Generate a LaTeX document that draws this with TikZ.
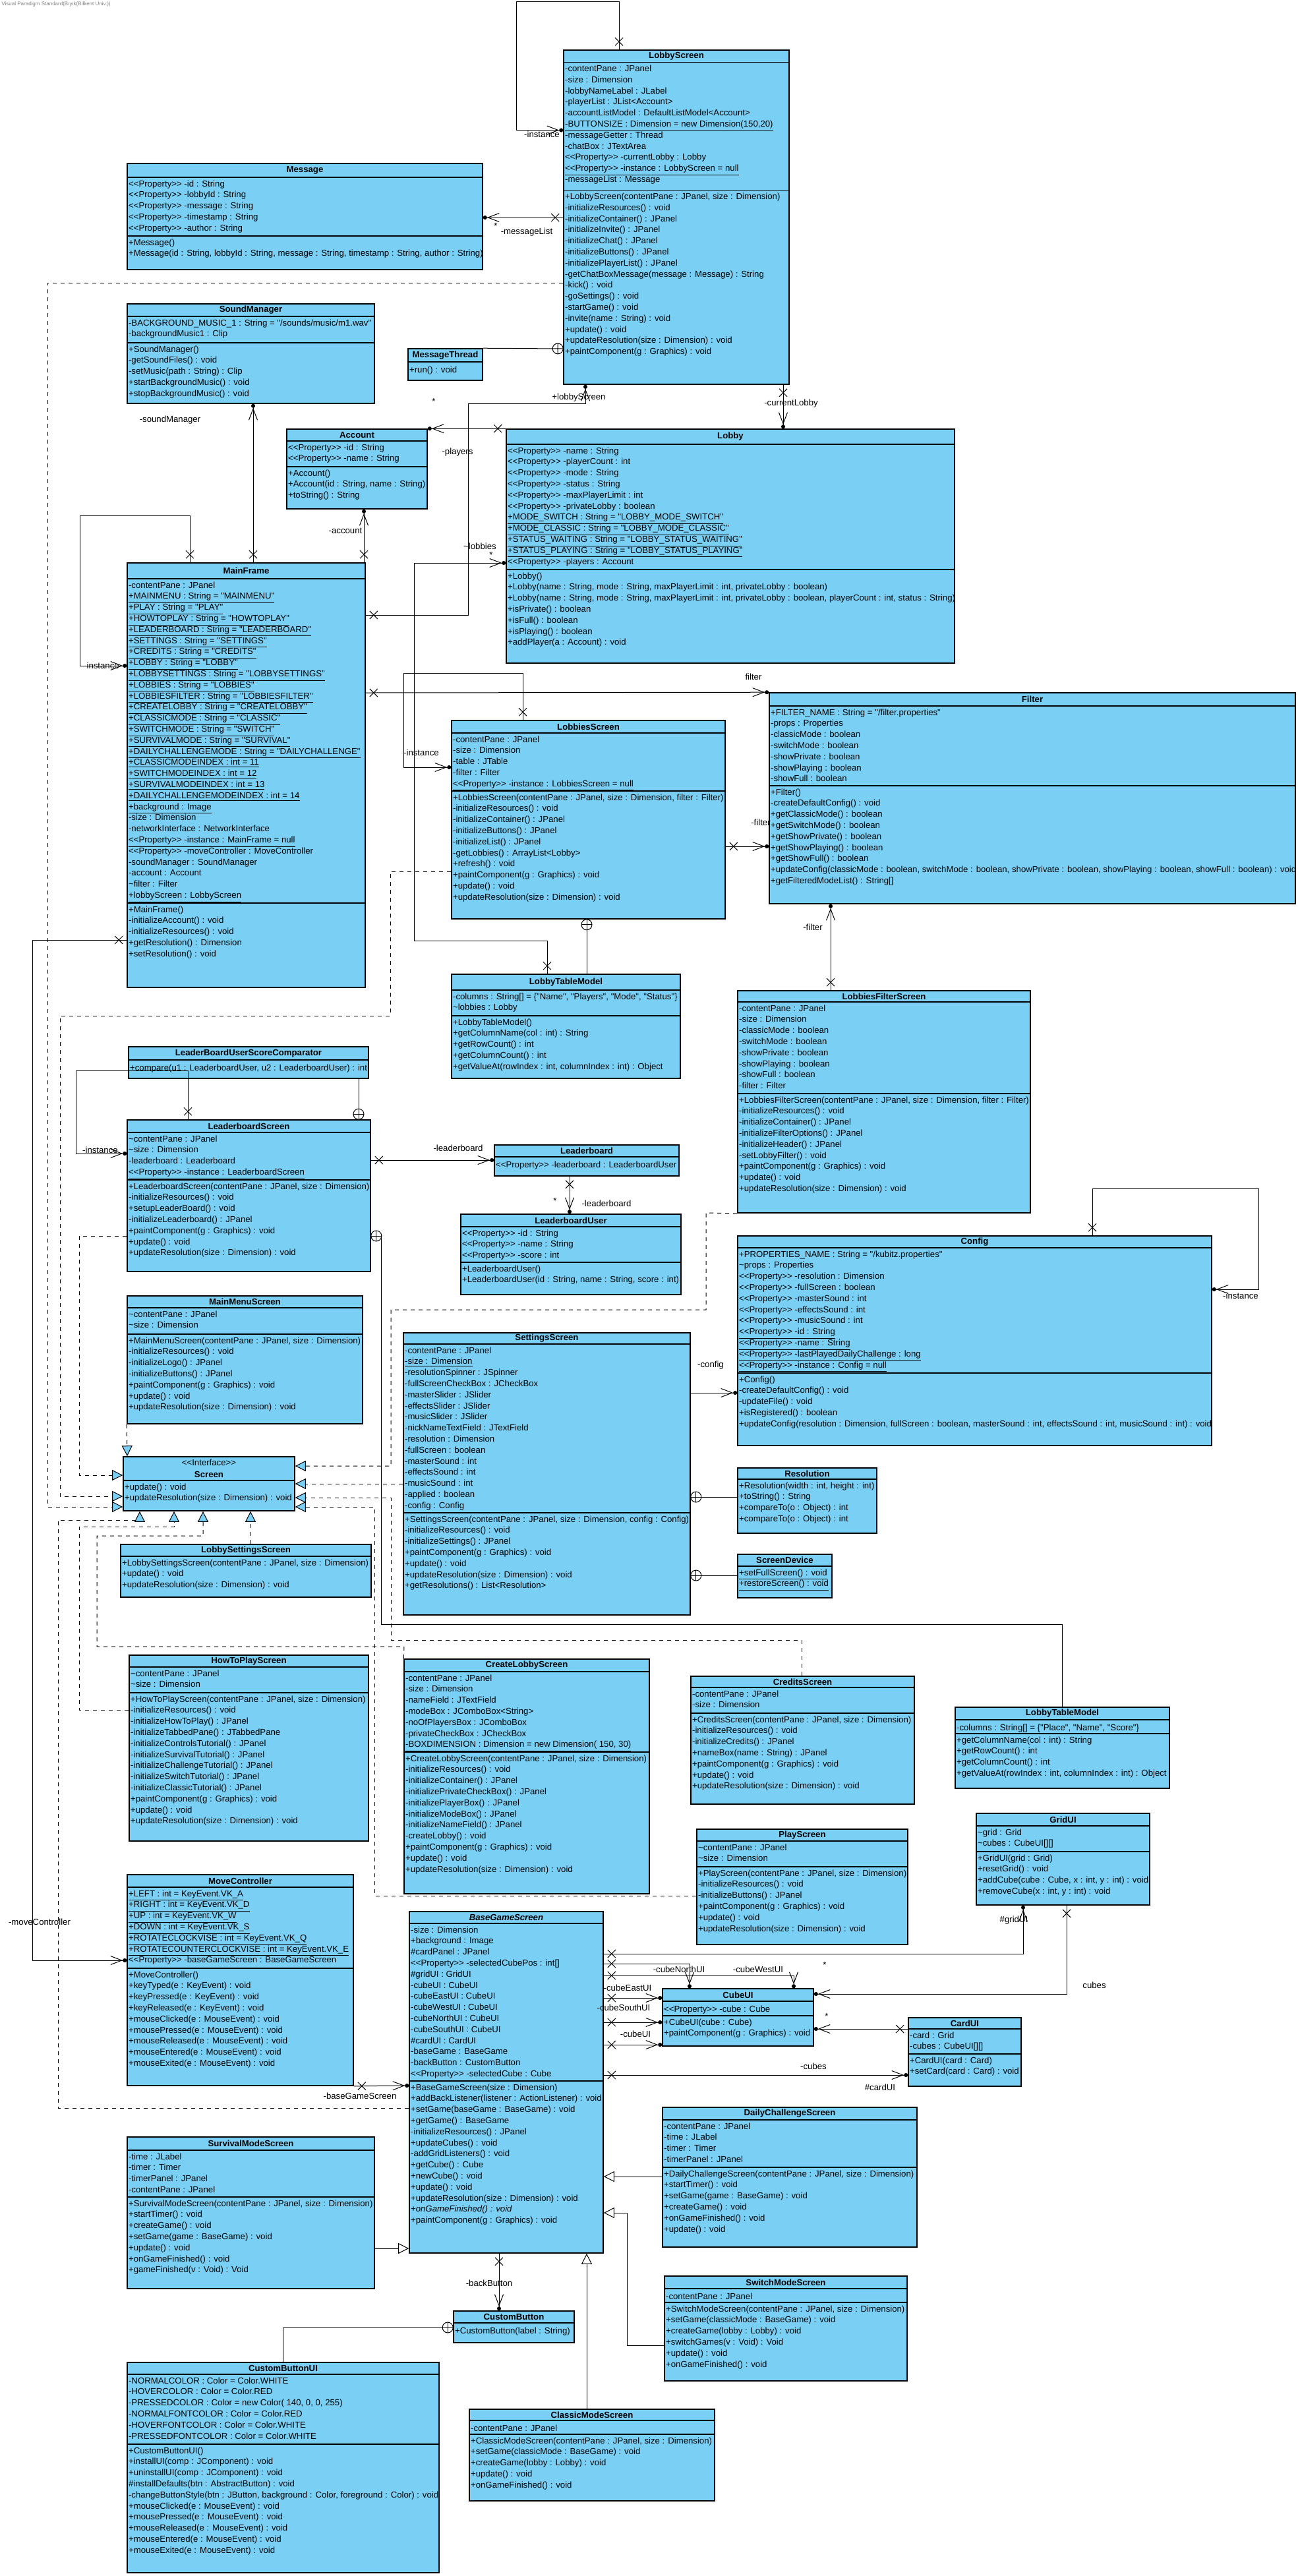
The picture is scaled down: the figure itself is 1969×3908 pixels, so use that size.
\documentclass[tikz,border=0pt]{standalone}
\usepackage{fontspec}
\newfontfamily\umlfont{Liberation Sans}
\usetikzlibrary{arrows.meta,fit,decorations.markings}
\definecolor{umlblue}{RGB}{122,207,245}
\lineskiplimit=-10pt

\begin{document}
\begin{tikzpicture}[x=0.5pt, y=-0.5pt, line width=0.5pt,
  font=\umlfont\fontsize{6.6}{8.4}\selectfont,
  cls/.style={draw, fill=umlblue, line width=0.8pt, inner sep=0pt},
  title/.style={font=\umlfont\fontsize{6.6}{8.4}\selectfont\bfseries, inner sep=0pt},
  body/.style={anchor=north west, align=left, inner xsep=0.8pt, inner ysep=2pt, execute at begin node=\strut},
  sep/.style={line width=0.8pt},
  lbl/.style={inner sep=0pt},
  nav/.style={-{Straight Barb[length=8.5pt,width=6.5pt]Circle[length=3pt]}},
  gen/.style={-{Triangle[length=8pt,width=8pt,fill=white]}},
  real/.style={dash pattern=on 3pt off 3pt, -{Triangle[length=8pt,width=8pt,fill=umlblue]}},
  xs/.style={postaction={decorate, decoration={markings, mark=at position 6pt with {\draw[solid,-] (-3pt,-3pt) -- (3pt,3pt) (-3pt,3pt) -- (3pt,-3pt);}}}},
  os/.style={postaction={decorate, decoration={markings, mark=at position 4pt with {\draw[solid,-,fill=white] (0,0) circle (4pt); \draw[solid,-] (-4pt,0) -- (4pt,0) (0,-4pt) -- (0,4pt);}}}}]
\useasboundingbox (0,0) rectangle (1969,3908);

\node[anchor=north west, inner sep=0pt, text=gray, font=\umlfont\fontsize{4}{5}\selectfont] (stamp) at (2,2) {Visual Paradigm Standard(Bıyık(Bilkent Univ.))};

% LobbyScreen
\node[cls, fit={(855,76) (1197,583)}] (LobbyScreen) {};
\node[title] at (1026,85) {LobbyScreen};
\draw[sep] (855,94.5) -- (1197,94.5) (855,288.5) -- (1197,288.5);
\node[body] at (855,94.5) {-contentPane : JPanel\\ -size : Dimension\\ -lobbyNameLabel : JLabel\\ -playerList : JList<Account>\\ -accountListModel : DefaultListModel<Account>\\ \underline{-BUTTONSIZE : Dimension = new Dimension(150,20)}\\ -messageGetter : Thread\\ -chatBox : JTextArea\\ <<Property>> -currentLobby : Lobby\\ \underline{<<Property>> -instance : LobbyScreen = null}\\ -messageList : Message};
\node[body] at (855,288.5) {+LobbyScreen(contentPane : JPanel, size : Dimension)\\ -initializeResources() : void\\ -initializeContainer() : JPanel\\ -initializeInvite() : JPanel\\ -initializeChat() : JPanel\\ -initializeButtons() : JPanel\\ -initializePlayerList() : JPanel\\ -getChatBoxMessage(message : Message) : String\\ -kick() : void\\ -goSettings() : void\\ -startGame() : void\\ -invite(name : String) : void\\ +update() : void\\ +updateResolution(size : Dimension) : void\\ +paintComponent(g : Graphics) : void};

% Message
\node[cls, fit={(193,248) (732,409)}] (Message) {};
\node[title] at (462.5,258.5) {Message};
\draw[sep] (193,269) -- (732,269) (193,358) -- (732,358);
\node[body] at (193,269) {<<Property>> -id : String\\ <<Property>> -lobbyId : String\\ <<Property>> -message : String\\ <<Property>> -timestamp : String\\ <<Property>> -author : String};
\node[body] at (193,358) {+Message()\\ +Message(id : String, lobbyId : String, message : String, timestamp : String, author : String)};

% SoundManager
\node[cls, fit={(193,461) (568,612)}] (SoundManager) {};
\node[title] at (380.5,470.5) {SoundManager};
\draw[sep] (193,480) -- (568,480) (193,520) -- (568,520);
\node[body] at (193,480) {-BACKGROUND\_MUSIC\_1 : String = "/sounds/music/m1.wav"\\ -backgroundMusic1 : Clip};
\node[body] at (193,520) {+SoundManager()\\ -getSoundFiles() : void\\ -setMusic(path : String) : Clip\\ +startBackgroundMusic() : void\\ +stopBackgroundMusic() : void};

% MessageThread
\node[cls, fit={(619,529) (732,577)}] (MessageThread) {};
\node[title] at (675.5,539) {MessageThread};
\draw[sep] (619,549) -- (732,549);
\node[body] at (619,549) {+run() : void};

% Account
\node[cls, fit={(435,651) (648,772)}] (Account) {};
\node[title] at (541.5,660) {Account};
\draw[sep] (435,669) -- (648,669) (435,708) -- (648,708);
\node[body] at (435,669) {<<Property>> -id : String\\ <<Property>> -name : String};
\node[body] at (435,708) {+Account()\\ +Account(id : String, name : String)\\ +toString() : String};

% Lobby
\node[cls, fit={(768,651) (1448,1006)}] (Lobby) {};
\node[title] at (1108,662.5) {Lobby};
\draw[sep] (768,674) -- (1448,674) (768,864) -- (1448,864);
\node[body] at (768,674) {<<Property>> -name : String\\ <<Property>> -playerCount : int\\ <<Property>> -mode : String\\ <<Property>> -status : String\\ <<Property>> -maxPlayerLimit : int\\ <<Property>> -privateLobby : boolean\\ \underline{+MODE\_SWITCH : String = "LOBBY\_MODE\_SWITCH"}\\ \underline{+MODE\_CLASSIC : String = "LOBBY\_MODE\_CLASSIC"}\\ \underline{+STATUS\_WAITING : String = "LOBBY\_STATUS\_WAITING"}\\ \underline{+STATUS\_PLAYING : String = "LOBBY\_STATUS\_PLAYING"}\\ <<Property>> -players : Account};
\node[body] at (768,864) {+Lobby()\\ +Lobby(name : String, mode : String, maxPlayerLimit : int, privateLobby : boolean)\\ +Lobby(name : String, mode : String, maxPlayerLimit : int, privateLobby : boolean, playerCount : int, status : String)\\ +isPrivate() : boolean\\ +isFull() : boolean\\ +isPlaying() : boolean\\ +addPlayer(a : Account) : void};

% MainFrame
\node[cls, fit={(193,854) (554,1498)}] (MainFrame) {};
\node[title] at (373.5,866) {MainFrame};
\draw[sep] (193,878) -- (554,878) (193,1370) -- (554,1370);
\node[body] at (193,878) {-contentPane : JPanel\\ \underline{+MAINMENU : String = "MAINMENU"}\\ \underline{+PLAY : String = "PLAY"}\\ \underline{+HOWTOPLAY : String = "HOWTOPLAY"}\\ \underline{+LEADERBOARD : String = "LEADERBOARD"}\\ \underline{+SETTINGS : String = "SETTINGS"}\\ \underline{+CREDITS : String = "CREDITS"}\\ \underline{+LOBBY : String = "LOBBY"}\\ \underline{+LOBBYSETTINGS : String = "LOBBYSETTINGS"}\\ \underline{+LOBBIES : String = "LOBBIES"}\\ \underline{+LOBBIESFILTER : String = "LOBBIESFILTER"}\\ \underline{+CREATELOBBY : String = "CREATELOBBY"}\\ \underline{+CLASSICMODE : String = "CLASSIC"}\\ \underline{+SWITCHMODE : String = "SWITCH"}\\ \underline{+SURVIVALMODE : String = "SURVIVAL"}\\ \underline{+DAILYCHALLENGEMODE : String = "DAILYCHALLENGE"}\\ \underline{+CLASSICMODEINDEX : int = 11}\\ \underline{+SWITCHMODEINDEX : int = 12}\\ \underline{+SURVIVALMODEINDEX : int = 13}\\ \underline{+DAILYCHALLENGEMODEINDEX : int = 14}\\ \underline{+background : Image}\\ -size : Dimension\\ -networkInterface : NetworkInterface\\ \underline{<<Property>> -instance : MainFrame = null}\\ <<Property>> -moveController : MoveController\\ -soundManager : SoundManager\\ -account : Account\\ \textasciitilde{}filter : Filter\\ \underline{+lobbyScreen : LobbyScreen}};
\node[body] at (193,1370) {+MainFrame()\\ -initializeAccount() : void\\ -initializeResources() : void\\ +getResolution() : Dimension\\ +setResolution() : void};

% LobbiesScreen
\node[cls, fit={(685,1093) (1100,1394)}] (LobbiesScreen) {};
\node[title] at (892.5,1102.5) {LobbiesScreen};
\draw[sep] (685,1112) -- (1100,1112) (685,1200) -- (1100,1200);
\node[body] at (685,1112) {-contentPane : JPanel\\ -size : Dimension\\ -table : JTable\\ -filter : Filter\\ \underline{<<Property>> -instance : LobbiesScreen = null}};
\node[body] at (685,1200) {+LobbiesScreen(contentPane : JPanel, size : Dimension, filter : Filter)\\ -initializeResources() : void\\ -initializeContainer() : JPanel\\ -initializeButtons() : JPanel\\ -initializeList() : JPanel\\ -getLobbies() : ArrayList<Lobby>\\ +refresh() : void\\ +paintComponent(g : Graphics) : void\\ +update() : void\\ +updateResolution(size : Dimension) : void};

% Filter
\node[cls, fit={(1167,1051) (1965,1371)}] (Filter) {};
\node[title] at (1566,1061) {Filter};
\draw[sep] (1167,1071) -- (1965,1071) (1167,1192) -- (1965,1192);
\node[body] at (1167,1071) {+FILTER\_NAME : String = "/filter.properties"\\ -props : Properties\\ -classicMode : boolean\\ -switchMode : boolean\\ -showPrivate : boolean\\ -showPlaying : boolean\\ -showFull : boolean};
\node[body] at (1167,1192) {+Filter()\\ -createDefaultConfig() : void\\ +getClassicMode() : boolean\\ +getSwitchMode() : boolean\\ +getShowPrivate() : boolean\\ +getShowPlaying() : boolean\\ +getShowFull() : boolean\\ +updateConfig(classicMode : boolean, switchMode : boolean, showPrivate : boolean, showPlaying : boolean, showFull : boolean) : void\\ +getFilteredModeList() : String[]};

% LobbyTableModel
\node[cls, fit={(685,1478) (1032,1636)}] (LobbyTableModel) {};
\node[title] at (858.5,1490) {LobbyTableModel};
\draw[sep] (685,1502) -- (1032,1502) (685,1541) -- (1032,1541);
\node[body] at (685,1502) {-columns : String[] = \{"Name", "Players", "Mode", "Status"\}\\ \textasciitilde{}lobbies : Lobby};
\node[body] at (685,1541) {+LobbyTableModel()\\ +getColumnName(col : int) : String\\ +getRowCount() : int\\ +getColumnCount() : int\\ +getValueAt(rowIndex : int, columnIndex : int) : Object};

% LobbiesFilterScreen
\node[cls, fit={(1119,1503) (1563,1840)}] (LobbiesFilterScreen) {};
\node[title] at (1341,1511.5) {LobbiesFilterScreen};
\draw[sep] (1119,1520) -- (1563,1520) (1119,1659) -- (1563,1659);
\node[body] at (1119,1520) {-contentPane : JPanel\\ -size : Dimension\\ -classicMode : boolean\\ -switchMode : boolean\\ -showPrivate : boolean\\ -showPlaying : boolean\\ -showFull : boolean\\ -filter : Filter};
\node[body] at (1119,1659) {+LobbiesFilterScreen(contentPane : JPanel, size : Dimension, filter : Filter)\\ -initializeResources() : void\\ -initializeContainer() : JPanel\\ -initializeFilterOptions() : JPanel\\ -initializeHeader() : JPanel\\ -setLobbyFilter() : void\\ +paintComponent(g : Graphics) : void\\ +update() : void\\ +updateResolution(size : Dimension) : void};

% LeaderBoardUserScoreComparator
\node[cls, fit={(195,1588) (559,1636)}] (Comparator) {};
\node[title] at (377,1598) {LeaderBoardUserScoreComparator};
\draw[sep] (195,1608) -- (559,1608);
\node[body] at (195,1608) {+compare(u1 : LeaderboardUser, u2 : LeaderboardUser) : int};

% LeaderboardScreen
\node[cls, fit={(193,1699) (562,1929)}] (LeaderboardScreen) {};
\node[title] at (377.5,1708.5) {LeaderboardScreen};
\draw[sep] (193,1718) -- (562,1718) (193,1790) -- (562,1790);
\node[body] at (193,1718) {\textasciitilde{}contentPane : JPanel\\ \textasciitilde{}size : Dimension\\ -leaderboard : Leaderboard\\ \underline{<<Property>> -instance : LeaderboardScreen}};
\node[body] at (193,1790) {+LeaderboardScreen(contentPane : JPanel, size : Dimension)\\ -initializeResources() : void\\ +setupLeaderBoard() : void\\ -initializeLeaderboard() : JPanel\\ +paintComponent(g : Graphics) : void\\ +update() : void\\ +updateResolution(size : Dimension) : void};

% Leaderboard
\node[cls, fit={(750,1737) (1030,1784)}] (Leaderboard) {};
\node[title] at (890,1746) {Leaderboard};
\draw[sep] (750,1755) -- (1030,1755);
\node[body] at (750,1755) {<<Property>> -leaderboard : LeaderboardUser};

% LeaderboardUser
\node[cls, fit={(699,1842) (1033,1964)}] (LeaderboardUser) {};
\node[title] at (866,1851.5) {LeaderboardUser};
\draw[sep] (699,1861) -- (1033,1861) (699,1915) -- (1033,1915);
\node[body] at (699,1861) {<<Property>> -id : String\\ <<Property>> -name : String\\ <<Property>> -score : int};
\node[body] at (699,1915) {+LeaderboardUser()\\ +LeaderboardUser(id : String, name : String, score : int)};

% Config
\node[cls, fit={(1119,1875) (1838,2193)}] (Config) {};
\node[title] at (1478.5,1884) {Config};
\draw[sep] (1119,1893) -- (1838,1893) (1119,2083) -- (1838,2083);
\node[body] at (1119,1893) {+PROPERTIES\_NAME : String = "/kubitz.properties"\\ \textasciitilde{}props : Properties\\ <<Property>> -resolution : Dimension\\ <<Property>> -fullScreen : boolean\\ <<Property>> -masterSound : int\\ <<Property>> -effectsSound : int\\ <<Property>> -musicSound : int\\ \underline{<<Property>> -id : String}\\ \underline{<<Property>> -name : String}\\ \underline{<<Property>> -lastPlayedDailyChallenge : long}\\ \underline{<<Property>> -instance : Config = null}};
\node[body] at (1119,2083) {+Config()\\ -createDefaultConfig() : void\\ -updateFile() : void\\ +isRegistered() : boolean\\ +updateConfig(resolution : Dimension, fullScreen : boolean, masterSound : int, effectsSound : int, musicSound : int) : void};

% MainMenuScreen
\node[cls, fit={(193,1966) (550,2160)}] (MainMenuScreen) {};
\node[title] at (371.5,1975) {MainMenuScreen};
\draw[sep] (193,1984) -- (550,1984) (193,2024) -- (550,2024);
\node[body] at (193,1984) {\textasciitilde{}contentPane : JPanel\\ \textasciitilde{}size : Dimension};
\node[body] at (193,2024) {+MainMenuScreen(contentPane : JPanel, size : Dimension)\\ -initializeResources() : void\\ -initializeLogo() : JPanel\\ -initializeButtons() : JPanel\\ +paintComponent(g : Graphics) : void\\ +update() : void\\ +updateResolution(size : Dimension) : void};

% SettingsScreen
\node[cls, fit={(612,2022) (1047,2450)}] (SettingsScreen) {};
\node[title] at (829.5,2030.5) {SettingsScreen};
\draw[sep] (612,2039) -- (1047,2039) (612,2295) -- (1047,2295);
\node[body] at (612,2039) {-contentPane : JPanel\\ \underline{-size : Dimension}\\ -resolutionSpinner : JSpinner\\ -fullScreenCheckBox : JCheckBox\\ -masterSlider : JSlider\\ -effectsSlider : JSlider\\ -musicSlider : JSlider\\ -nickNameTextField : JTextField\\ -resolution : Dimension\\ -fullScreen : boolean\\ -masterSound : int\\ -effectsSound : int\\ -musicSound : int\\ -applied : boolean\\ -config : Config};
\node[body] at (612,2295) {+SettingsScreen(contentPane : JPanel, size : Dimension, config : Config)\\ -initializeResources() : void\\ -initializeSettings() : JPanel\\ +paintComponent(g : Graphics) : void\\ +update() : void\\ +updateResolution(size : Dimension) : void\\ +getResolutions() : List<Resolution>};

% Resolution
\node[cls, fit={(1119,2227) (1330,2326)}] (Resolution) {};
\node[title] at (1224.5,2235.5) {Resolution};
\draw[sep] (1119,2244) -- (1330,2244);
\node[body] at (1119,2244) {+Resolution(width : int, height : int)\\ +toString() : String\\ +compareTo(o : Object) : int\\ +compareTo(o : Object) : int};

% ScreenDevice
\node[cls, fit={(1119,2358) (1262,2424)}] (ScreenDevice) {};
\node[title] at (1190.5,2367) {ScreenDevice};
\draw[sep] (1119,2376) -- (1262,2376);
\node[body] at (1119,2376) {\underline{+setFullScreen() : void}\\ \underline{+restoreScreen() : void}};

% Screen
\node[cls, fit={(187,2210) (447,2292)}] (Screen) {};
\node[inner sep=0pt] at (317,2219) {<<Interface>>};
\node[title] at (317,2237) {Screen};
\draw[sep] (187,2246) -- (447,2246);
\node[body] at (187,2246) {+update() : void\\ +updateResolution(size : Dimension) : void};

% LobbySettingsScreen
\node[cls, fit={(183,2343) (563,2423)}] (LobbySettingsScreen) {};
\node[title] at (373,2352) {LobbySettingsScreen};
\draw[sep] (183,2361) -- (563,2361);
\node[body] at (183,2361) {+LobbySettingsScreen(contentPane : JPanel, size : Dimension)\\ +update() : void\\ +updateResolution(size : Dimension) : void};

% HowToPlayScreen
\node[cls, fit={(196,2511) (559,2793)}] (HowToPlayScreen) {};
\node[title] at (377.5,2520) {HowToPlayScreen};
\draw[sep] (196,2529) -- (559,2529) (196,2568) -- (559,2568);
\node[body] at (196,2529) {\textasciitilde{}contentPane : JPanel\\ \textasciitilde{}size : Dimension};
\node[body] at (196,2568) {+HowToPlayScreen(contentPane : JPanel, size : Dimension)\\ -initializeResources() : void\\ -initializeHowToPlay() : JPanel\\ -initializeTabbedPane() : JTabbedPane\\ -initializeControlsTutorial() : JPanel\\ -initializeSurvivalTutorial() : JPanel\\ -initializeChallengeTutorial() : JPanel\\ -initializeSwitchTutorial() : JPanel\\ -initializeClassicTutorial() : JPanel\\ +paintComponent(g : Graphics) : void\\ +update() : void\\ +updateResolution(size : Dimension) : void};

% CreateLobbyScreen
\node[cls, fit={(613,2517) (985,2873)}] (CreateLobbyScreen) {};
\node[title] at (799,2526.5) {CreateLobbyScreen};
\draw[sep] (613,2536) -- (985,2536) (613,2658) -- (985,2658);
\node[body] at (613,2536) {-contentPane : JPanel\\ -size : Dimension\\ -nameField : JTextField\\ -modeBox : JComboBox<String>\\ -noOfPlayersBox : JComboBox\\ -privateCheckBox : JCheckBox\\ \underline{-BOXDIMENSION : Dimension = new Dimension( 150, 30)}};
\node[body] at (613,2658) {+CreateLobbyScreen(contentPane : JPanel, size : Dimension)\\ -initializeResources() : void\\ -initializeContainer() : JPanel\\ -initializePrivateCheckBox() : JPanel\\ -initializePlayerBox() : JPanel\\ -initializeModeBox() : JPanel\\ -initializeNameField() : JPanel\\ -createLobby() : void\\ +paintComponent(g : Graphics) : void\\ +update() : void\\ +updateResolution(size : Dimension) : void};

% CreditsScreen
\node[cls, fit={(1048,2543) (1387,2737)}] (CreditsScreen) {};
\node[title] at (1217.5,2551.5) {CreditsScreen};
\draw[sep] (1048,2560) -- (1387,2560) (1048,2599) -- (1387,2599);
\node[body] at (1048,2560) {-contentPane : JPanel\\ -size : Dimension};
\node[body] at (1048,2599) {+CreditsScreen(contentPane : JPanel, size : Dimension)\\ -initializeResources() : void\\ -initializeCredits() : JPanel\\ +nameBox(name : String) : JPanel\\ +paintComponent(g : Graphics) : void\\ +update() : void\\ +updateResolution(size : Dimension) : void};

% LobbyTableModel (leaderboard)
\node[cls, fit={(1449,2590) (1774,2713)}] (LobbyTableModelB) {};
\node[title] at (1611.5,2599.5) {LobbyTableModel};
\draw[sep] (1449,2609) -- (1774,2609) (1449,2630) -- (1774,2630);
\node[body] at (1449,2609) {-columns : String[] = \{"Place", "Name", "Score"\}};
\node[body] at (1449,2630) {+getColumnName(col : int) : String\\ +getRowCount() : int\\ +getColumnCount() : int\\ +getValueAt(rowIndex : int, columnIndex : int) : Object};

% GridUI
\node[cls, fit={(1481,2751) (1744,2890)}] (GridUI) {};
\node[title] at (1612.5,2760.5) {GridUI};
\draw[sep] (1481,2770) -- (1744,2770) (1481,2809) -- (1744,2809);
\node[body] at (1481,2770) {\textasciitilde{}grid : Grid\\ \textasciitilde{}cubes : CubeUI[][]};
\node[body] at (1481,2809) {+GridUI(grid : Grid)\\ +resetGrid() : void\\ +addCube(cube : Cube, x : int, y : int) : void\\ +removeCube(x : int, y : int) : void};

% PlayScreen
\node[cls, fit={(1057,2775) (1377,2950)}] (PlayScreen) {};
\node[title] at (1217,2784) {PlayScreen};
\draw[sep] (1057,2793) -- (1377,2793) (1057,2832) -- (1377,2832);
\node[body] at (1057,2793) {\textasciitilde{}contentPane : JPanel\\ \textasciitilde{}size : Dimension};
\node[body] at (1057,2832) {+PlayScreen(contentPane : JPanel, size : Dimension)\\ -initializeResources() : void\\ -initializeButtons() : JPanel\\ +paintComponent(g : Graphics) : void\\ +update() : void\\ +updateResolution(size : Dimension) : void};

% MoveController
\node[cls, fit={(193,2844) (536,3164)}] (MoveController) {};
\node[title] at (364.5,2853.5) {MoveController};
\draw[sep] (193,2863) -- (536,2863) (193,2986) -- (536,2986);
\node[body] at (193,2863) {\underline{+LEFT : int = KeyEvent.VK\_A}\\ \underline{+RIGHT : int = KeyEvent.VK\_D}\\ \underline{+UP : int = KeyEvent.VK\_W}\\ \underline{+DOWN : int = KeyEvent.VK\_S}\\ \underline{+ROTATECLOCKVISE : int = KeyEvent.VK\_Q}\\ \underline{+ROTATECOUNTERCLOCKVISE : int = KeyEvent.VK\_E}\\ <<Property>> -baseGameScreen : BaseGameScreen};
\node[body] at (193,2986) {+MoveController()\\ +keyTyped(e : KeyEvent) : void\\ +keyPressed(e : KeyEvent) : void\\ +keyReleased(e : KeyEvent) : void\\ +mouseClicked(e : MouseEvent) : void\\ +mousePressed(e : MouseEvent) : void\\ +mouseReleased(e : MouseEvent) : void\\ +mouseEntered(e : MouseEvent) : void\\ +mouseExited(e : MouseEvent) : void};

% BaseGameScreen
\node[cls, fit={(621,2900) (915,3418)}] (BaseGameScreen) {};
\node[title] at (768,2909) {\itshape BaseGameScreen};
\draw[sep] (621,2918) -- (915,2918) (621,3157) -- (915,3157);
\node[body] at (621,2918) {-size : Dimension\\ +background : Image\\ \#cardPanel : JPanel\\ <<Property>> -selectedCubePos : int[]\\ \#gridUI : GridUI\\ -cubeUI : CubeUI\\ -cubeEastUI : CubeUI\\ -cubeWestUI : CubeUI\\ -cubeNorthUI : CubeUI\\ -cubeSouthUI : CubeUI\\ \#cardUI : CardUI\\ -baseGame : BaseGame\\ -backButton : CustomButton\\ <<Property>> -selectedCube : Cube};
\node[body] at (621,3157) {+BaseGameScreen(size : Dimension)\\ +addBackListener(listener : ActionListener) : void\\ +setGame(baseGame : BaseGame) : void\\ +getGame() : BaseGame\\ -initializeResources() : JPanel\\ +updateCubes() : void\\ -addGridListeners() : void\\ +getCube() : Cube\\ +newCube() : void\\ +update() : void\\ +updateResolution(size : Dimension) : void\\ \textit{+onGameFinished() : void}\\ +paintComponent(g : Graphics) : void};

% CubeUI
\node[cls, fit={(1005,3017) (1234,3104)}] (CubeUI) {};
\node[title] at (1119.5,3026.5) {CubeUI};
\draw[sep] (1005,3036) -- (1234,3036) (1005,3058) -- (1234,3058);
\node[body] at (1005,3036) {<<Property>> -cube : Cube};
\node[body] at (1005,3058) {+CubeUI(cube : Cube)\\ +paintComponent(g : Graphics) : void};

% CardUI
\node[cls, fit={(1378,3061) (1549,3165)}] (CardUI) {};
\node[title] at (1463.5,3069.5) {CardUI};
\draw[sep] (1378,3078) -- (1549,3078) (1378,3116) -- (1549,3116);
\node[body] at (1378,3078) {-card : Grid\\ -cubes : CubeUI[][]};
\node[body] at (1378,3116) {+CardUI(card : Card)\\ +setCard(card : Card) : void};

% DailyChallengeScreen
\node[cls, fit={(1005,3197) (1391,3409)}] (DailyChallengeScreen) {};
\node[title] at (1198,3206.5) {DailyChallengeScreen};
\draw[sep] (1005,3216) -- (1391,3216) (1005,3288) -- (1391,3288);
\node[body] at (1005,3216) {-contentPane : JPanel\\ -time : JLabel\\ -timer : Timer\\ -timerPanel : JPanel};
\node[body] at (1005,3288) {+DailyChallengeScreen(contentPane : JPanel, size : Dimension)\\ +startTimer() : void\\ +setGame(game : BaseGame) : void\\ +createGame() : void\\ +onGameFinished() : void\\ +update() : void};

% SurvivalModeScreen
\node[cls, fit={(193,3242) (568,3472)}] (SurvivalModeScreen) {};
\node[title] at (380.5,3252) {SurvivalModeScreen};
\draw[sep] (193,3262) -- (568,3262) (193,3333) -- (568,3333);
\node[body] at (193,3262) {-time : JLabel\\ -timer : Timer\\ -timerPanel : JPanel\\ -contentPane : JPanel};
\node[body] at (193,3333) {+SurvivalModeScreen(contentPane : JPanel, size : Dimension)\\ +startTimer() : void\\ +createGame() : void\\ +setGame(game : BaseGame) : void\\ +update() : void\\ +onGameFinished() : void\\ +gameFinished(v : Void) : Void};

% CustomButton
\node[cls, fit={(688,3506) (871,3554)}] (CustomButton) {};
\node[title] at (779.5,3515) {CustomButton};
\draw[sep] (688,3524) -- (871,3524);
\node[body] at (688,3524) {+CustomButton(label : String)};

% SwitchModeScreen
\node[cls, fit={(1008,3453) (1376,3612)}] (SwitchModeScreen) {};
\node[title] at (1192,3462.5) {SwitchModeScreen};
\draw[sep] (1008,3472) -- (1376,3472) (1008,3493) -- (1376,3493);
\node[body] at (1008,3472) {-contentPane : JPanel};
\node[body] at (1008,3493) {+SwitchModeScreen(contentPane : JPanel, size : Dimension)\\ +setGame(classicMode : BaseGame) : void\\ +createGame(lobby : Lobby) : void\\ +switchGames(v : Void) : Void\\ +update() : void\\ +onGameFinished() : void};

% CustomButtonUI
\node[cls, fit={(193,3584) (666,3903)}] (CustomButtonUI) {};
\node[title] at (429.5,3593) {CustomButtonUI};
\draw[sep] (193,3602) -- (666,3602) (193,3708) -- (666,3708);
\node[body] at (193,3602) {-NORMALCOLOR : Color = Color.WHITE\\ -HOVERCOLOR : Color = Color.RED\\ -PRESSEDCOLOR : Color = new Color( 140, 0, 0, 255)\\ -NORMALFONTCOLOR : Color = Color.RED\\ -HOVERFONTCOLOR : Color = Color.WHITE\\ -PRESSEDFONTCOLOR : Color = Color.WHITE};
\node[body] at (193,3708) {+CustomButtonUI()\\ +installUI(comp : JComponent) : void\\ +uninstallUI(comp : JComponent) : void\\ \#installDefaults(btn : AbstractButton) : void\\ -changeButtonStyle(btn : JButton, background : Color, foreground : Color) : void\\ +mouseClicked(e : MouseEvent) : void\\ +mousePressed(e : MouseEvent) : void\\ +mouseReleased(e : MouseEvent) : void\\ +mouseEntered(e : MouseEvent) : void\\ +mouseExited(e : MouseEvent) : void};

% ClassicModeScreen
\node[cls, fit={(712,3655) (1084,3794)}] (ClassicModeScreen) {};
\node[title] at (898,3663.5) {ClassicModeScreen};
\draw[sep] (712,3672) -- (1084,3672) (712,3693) -- (1084,3693);
\node[body] at (712,3672) {-contentPane : JPanel};
\node[body] at (712,3693) {+ClassicModeScreen(contentPane : JPanel, size : Dimension)\\ +setGame(classicMode : BaseGame) : void\\ +createGame(lobby : Lobby) : void\\ +update() : void\\ +onGameFinished() : void};

% associations
\draw[nav, xs] (LobbyScreen.north -| 939,0) -- (939,2) -- (783,2) -- (783,197.5) -- (LobbyScreen.west |- 0,197.5);
\draw[nav, xs] (LobbyScreen.west |- 0,330) -- (Message.east |- 0,330);
\draw[os] (LobbyScreen.west |- 0,529) -- (MessageThread.north east);
\draw[nav, xs] (MainFrame.east |- 0,933) -- (710,933) -- (710,612) -- (888,612) -- (LobbyScreen.south -| 888,0);
\draw[nav, xs] (LobbyScreen.south -| 1188,0) -- (Lobby.north -| 1188,0);
\draw[nav, xs] (Lobby.north west) -- (Account.north east);
\draw[nav, xs] (MainFrame.north -| 552,0) -- (Account.south -| 552,0);
\draw[nav, xs] (MainFrame.north -| 384,0) -- (SoundManager.south -| 384,0);
\draw[nav, xs] (MainFrame.north -| 288,0) -- (288,782) -- (121,782) -- (121,1010) -- (MainFrame.west |- 0,1010);
\draw[nav, xs] (MainFrame.east |- 0,1051) -- (Filter.north west);
\draw[nav, xs] (LobbiesScreen.north -| 793,0) -- (793,1021) -- (612,1021) -- (612,1164) -- (LobbiesScreen.west |- 0,1164);
\draw[nav, xs] (LobbyTableModel.north -| 830,0) -- (830,1427) -- (628,1427) -- (628,854) -- (Lobby.west |- 0,854);
\draw[os] (LobbiesScreen.south -| 890,0) -- (LobbyTableModel.north -| 890,0);
\draw[nav, xs] (LobbiesScreen.east |- 0,1284) -- (Filter.west |- 0,1284);
\draw[nav, xs] (LobbiesFilterScreen.north -| 1260,0) -- (Filter.south -| 1260,0);
\draw[nav, xs] (Config.north -| 1657,0) -- (1657,1803) -- (1909,1803) -- (1909,1956) -- (Config.east |- 0,1956);
\draw[nav] (SettingsScreen.east |- 0,2113) -- (Config.west |- 0,2113);
\draw[os] (SettingsScreen.east |- 0,2271) -- (Resolution.west |- 0,2271);
\draw[os] (SettingsScreen.east |- 0,2390) -- (ScreenDevice.west |- 0,2390);
\draw[os] (LeaderboardScreen.north -| 544,0) -- (Comparator.south -| 544,0);
\draw[nav, xs] (LeaderboardScreen.north -| 285,0) -- (285,1624) -- (115,1624) -- (115,1750) -- (LeaderboardScreen.west |- 0,1750);
\draw[nav, xs] (LeaderboardScreen.east |- 0,1760) -- (Leaderboard.west |- 0,1760);
\draw[nav, xs] (Leaderboard.south -| 864,0) -- (LeaderboardUser.north -| 864,0);
\draw[os] (LeaderboardScreen.east |- 0,1875) -- (578,1875) -- (578,2464) -- (1611,2464) -- (LobbyTableModelB.north -| 1611,0);
\draw[nav, xs] (MainFrame.west |- 0,1426) -- (49,1426) -- (49,2974) -- (MoveController.west |- 0,2974);
\draw[nav, xs] (MoveController.south east) -- (BaseGameScreen.west |- 0,3164);
\draw[nav, xs] (BaseGameScreen.east |- 0,2964) -- (1552,2964) -- (GridUI.south -| 1552,0);
\draw[nav, xs] (GridUI.south -| 1618,0) -- (1618,3025) -- (CubeUI.east |- 0,3025);
\draw[nav, xs] (BaseGameScreen.east |- 0,2979) -- (1046,2979) -- (CubeUI.north -| 1046,0);
\draw[nav, xs] (BaseGameScreen.east |- 0,2997) -- (1204,2997) -- (CubeUI.north -| 1204,0);
\draw[nav, xs] (BaseGameScreen.east |- 0,3031) -- (CubeUI.west |- 0,3031);
\draw[nav, xs] (BaseGameScreen.east |- 0,3068) -- (CubeUI.west |- 0,3068);
\draw[nav, xs] (BaseGameScreen.east |- 0,3102) -- (CubeUI.west |- 0,3102);
\draw[nav, xs] (CardUI.west |- 0,3078) -- (CubeUI.east |- 0,3078);
\draw[nav, xs] (BaseGameScreen.east |- 0,3148) -- (CardUI.west |- 0,3148);
\draw[nav, xs] (BaseGameScreen.south -| 757,0) -- (CustomButton.north -| 757,0);
\draw[os] (CustomButton.west |- 0,3531) -- (429,3531) -- (CustomButtonUI.north -| 429,0);

% generalizations
\draw[gen] (SurvivalModeScreen.east |- 0,3411) -- (BaseGameScreen.west |- 0,3411);
\draw[gen] (DailyChallengeScreen.west |- 0,3302) -- (BaseGameScreen.east |- 0,3302);
\draw[gen] (SwitchModeScreen.west |- 0,3558) -- (951,3558) -- (951,3357) -- (BaseGameScreen.east |- 0,3357);
\draw[gen] (ClassicModeScreen.north -| 890,0) -- (BaseGameScreen.south -| 890,0);

% realizations of Screen
\draw[real] (LobbyScreen.west |- 0,429) -- (72,429) -- (72,2286) -- (Screen.west |- 0,2286);
\draw[real] (LobbiesScreen.west |- 0,1322) -- (592,1322) -- (592,1541) -- (91,1541) -- (91,2270) -- (Screen.west |- 0,2270);
\draw[real] (LeaderboardScreen.west |- 0,1875) -- (120,1875) -- (120,2238) -- (Screen.west |- 0,2238);
\draw[real] (MainMenuScreen.south west) -- (Screen.north -| 193,0);
\draw[real] (LobbiesFilterScreen.south west) -- (1071,1840) -- (1071,1987) -- (593,1987) -- (593,2224) -- (Screen.east |- 0,2224);
\draw[real] (SettingsScreen.west |- 0,2251) -- (Screen.east |- 0,2251);
\draw[real] (CreditsScreen.north -| 1216,0) -- (1216,2488) -- (593,2488) -- (593,2272) -- (Screen.east |- 0,2272);
\draw[real] (PlayScreen.west |- 0,2876) -- (568,2876) -- (568,2286) -- (Screen.east |- 0,2286);
\draw[real] (HowToPlayScreen.west |- 0,2594) -- (120,2594) -- (120,2316) -- (264,2316) -- (Screen.south -| 264,0);
\draw[real] (CreateLobbyScreen.north west) -- (613,2498) -- (147,2498) -- (147,2330) -- (308,2330) -- (Screen.south -| 308,0);
\draw[real] (LobbySettingsScreen.north -| 380,0) -- (Screen.south -| 380,0);
\draw[real] (BaseGameScreen.west |- 0,3198) -- (88,3198) -- (88,2306) -- (212,2306) -- (Screen.south -| 212,0);

% role names
\node[lbl] at (822,204) {-instance};
\node[lbl] at (752,343) {*};
\node[lbl] at (799,352) {-messageList};
\node[lbl] at (878,603) {+lobbyScreen};
\node[lbl] at (1200,612) {-currentLobby};
\node[lbl] at (658,609) {*};
\node[lbl] at (694,686) {-players};
\node[lbl] at (258,637) {-soundManager};
\node[lbl] at (524,805) {-account};
\node[lbl] at (154,1010) {-instance};
\node[lbl] at (1143,1027) {filter};
\node[lbl] at (728,829) {\textasciitilde{}lobbies};
\node[lbl] at (745,842) {*};
\node[lbl] at (639,1142) {-instance};
\node[lbl] at (1154,1248) {-filter};
\node[lbl] at (1233,1407) {-filter};
\node[lbl] at (1882,1966) {-instance};
\node[lbl] at (1078,2071) {-config};
\node[lbl] at (152,1745) {-instance};
\node[lbl] at (695,1742) {-leaderboard};
\node[lbl] at (842,1822) {*};
\node[lbl] at (920,1826) {-leaderboard};
\node[lbl] at (60,2916) {-moveController};
\node[lbl] at (546,3180) {-baseGameScreen};
\node[lbl] at (1538,2913) {\#gridUI};
\node[lbl] at (1660,3012) {cubes};
\node[lbl] at (1251,2981) {*};
\node[lbl] at (1030,2988) {-cubeNorthUI};
\node[lbl] at (1150,2988) {-cubeWestUI};
\node[lbl] at (952,3016) {-cubeEastUI};
\node[lbl] at (946,3046) {-cubeSouthUI};
\node[lbl] at (964,3086) {-cubeUI};
\node[lbl] at (1254,3059) {*};
\node[lbl] at (1234,3135) {-cubes};
\node[lbl] at (1335,3167) {\#cardUI};
\node[lbl] at (742,3464) {-backButton};
\end{tikzpicture}
\end{document}
